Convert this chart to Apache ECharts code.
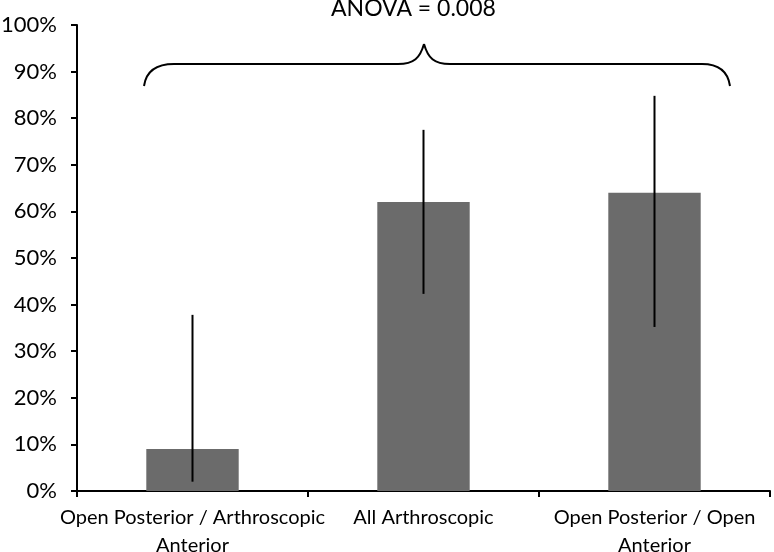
<!DOCTYPE html>
<html>
<head>
<meta charset="utf-8">
<script src="https://cdn.jsdelivr.net/npm/echarts@6/dist/echarts.min.js"></script>
<style>
  html, body { margin: 0; padding: 0; background: #fff; }
  #chart { width: 774px; height: 552px; }
</style>
</head>
<body>
<div id="chart"></div>
<script>
// data (percent)
const categories = ['Open Posterior / Arthroscopic\nAnterior', 'All Arthroscopic', 'Open Posterior / Open\nAnterior'];
const means = [9, 62, 64];
const errLow = [2, 42.3, 35.2];
const errHigh = [37.8, 77.5, 84.8];
const yTicks = [0, 10, 20, 30, 40, 50, 60, 70, 80, 90, 100];
const anovaText = 'ANOVA = 0.008';

const font = 'Lato, "Open Sans", sans-serif';
const myChart = echarts.init(document.getElementById('chart'));

// brace over all three groups
const braceStyle = { fill: null, stroke: '#000', lineWidth: 2 };
const curve = (x1, y1, cpx1, cpy1, cpx2, cpy2, x2, y2) => ({
    type: 'bezierCurve',
    shape: { x1, y1, cpx1, cpy1, cpx2, cpy2, x2, y2 },
    style: braceStyle
});
const straight = (x1, y1, x2, y2) => ({
    type: 'line',
    shape: { x1, y1, x2, y2 },
    style: braceStyle
});

const option = {
    animation: false,
    grid: { left: 77, right: 4, top: 25, bottom: 61, outerBoundsMode: 'none', containLabel: false },
    xAxis: {
        type: 'category',
        data: categories,
        boundaryGap: true,
        axisLine: { lineStyle: { color: '#000', width: 2 } },
        axisTick: { show: true, length: 6, lineStyle: { color: '#000', width: 2 } },
        axisLabel: {
            color: '#000', fontSize: 20, fontFamily: font, lineHeight: 28, margin: 13,
            interval: 0
        }
    },
    yAxis: {
        type: 'value',
        min: yTicks[0],
        max: yTicks[yTicks.length - 1],
        interval: 10,
        axisLine: { show: true, lineStyle: { color: '#000', width: 2 } },
        axisTick: { show: true, length: 6, lineStyle: { color: '#000', width: 2 } },
        splitLine: { show: false },
        axisLabel: {
            color: '#000', fontSize: 22, fontFamily: font, margin: 20,
            formatter: '{value}%'
        }
    },
    series: [
        {
            type: 'bar',
            data: means,
            barWidth: '40%',
            itemStyle: { color: '#6b6b6b' },
            z: 2
        },
        {
            type: 'custom',
            data: categories.map((c, i) => [i, errLow[i], errHigh[i]]),
            renderItem: function (params, api) {
                const lo = api.coord([api.value(0), api.value(1)]);
                const hi = api.coord([api.value(0), api.value(2)]);
                return {
                    type: 'line',
                    shape: { x1: lo[0], y1: lo[1], x2: hi[0], y2: hi[1] },
                    style: { stroke: '#000', lineWidth: 2 }
                };
            },
            z: 3
        }
    ],
    graphic: [
        {
            type: 'text',
            x: 331, y: -3,
            style: { text: anovaText, fill: '#000', font: '23px ' + font }
        },
        curve(144, 86, 146, 72, 156, 64, 174, 64),
        straight(174, 64, 398, 64),
        curve(398, 64, 414, 64, 420, 58, 424, 44),
        curve(424, 44, 428, 58, 434, 64, 450, 64),
        straight(450, 64, 702, 64),
        curve(702, 64, 720, 64, 728, 72, 730, 86)
    ]
};

myChart.setOption(option);
</script>
</body>
</html>
